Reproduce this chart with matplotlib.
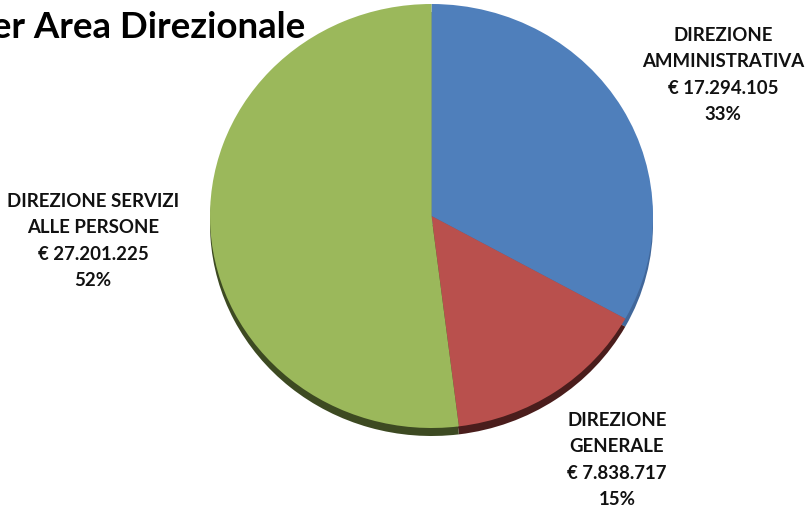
import matplotlib.pyplot as plt

# data
labels = ['DIREZIONE\nAMMINISTRATIVA', 'DIREZIONE\nGENERALE', 'DIREZIONE SERVIZI\nALLE PERSONE']
values = [17294105, 7838717, 27201225]
colors = ['#4f7fbb', '#b9504d', '#9bb85b']
shadow_colors = ['#41679a', '#4a1d1c', '#3d4a22']
title = 'Spesa per Area Direzionale'

W, H = 809, 507
fig = plt.figure(figsize=(W / 100, H / 100), dpi=100)
ax = fig.add_axes([0, 0, 1, 1])

# pie is slightly squashed vertically
sy = 221.5 / 212.0
cx, cy, r = 431.5, (H - 216) * sy, 221.5

# shadow
ax.pie(values, colors=shadow_colors, startangle=90, counterclock=False,
       center=(cx, cy - 8 * sy), radius=r, frame=True,
       wedgeprops=dict(linewidth=0))
ax.pie(values, colors=colors, startangle=90, counterclock=False,
       center=(cx, cy), radius=r, frame=True,
       wedgeprops=dict(linewidth=0))
ax.set_aspect('auto')
ax.set_xlim(0, W)
ax.set_ylim(0, H * sy)
ax.set_axis_off()

total = sum(values)


def fmt(v):
    return '€ ' + f'{v:,}'.replace(',', '.')


label_pos = [(723, 75), (617, 460), (93, 241)]
font = ['Lato', 'DejaVu Sans']
for lab, v, (px, py) in zip(labels, values, label_pos):
    txt = f'{lab}\n{fmt(v)}\n{round(100 * v / total)}%'
    ax.text(px, (H - py) * sy, txt, ha='center', va='center', fontsize=13.4,
            fontweight='bold', family=font, linespacing=1.66, color='#111111')

fig.text(305 / W, 1 - 27 / H, title, ha='right', va='center', fontsize=26.4,
         fontweight='bold', family=font, color='black')

fig.savefig('out.png', dpi=100)
